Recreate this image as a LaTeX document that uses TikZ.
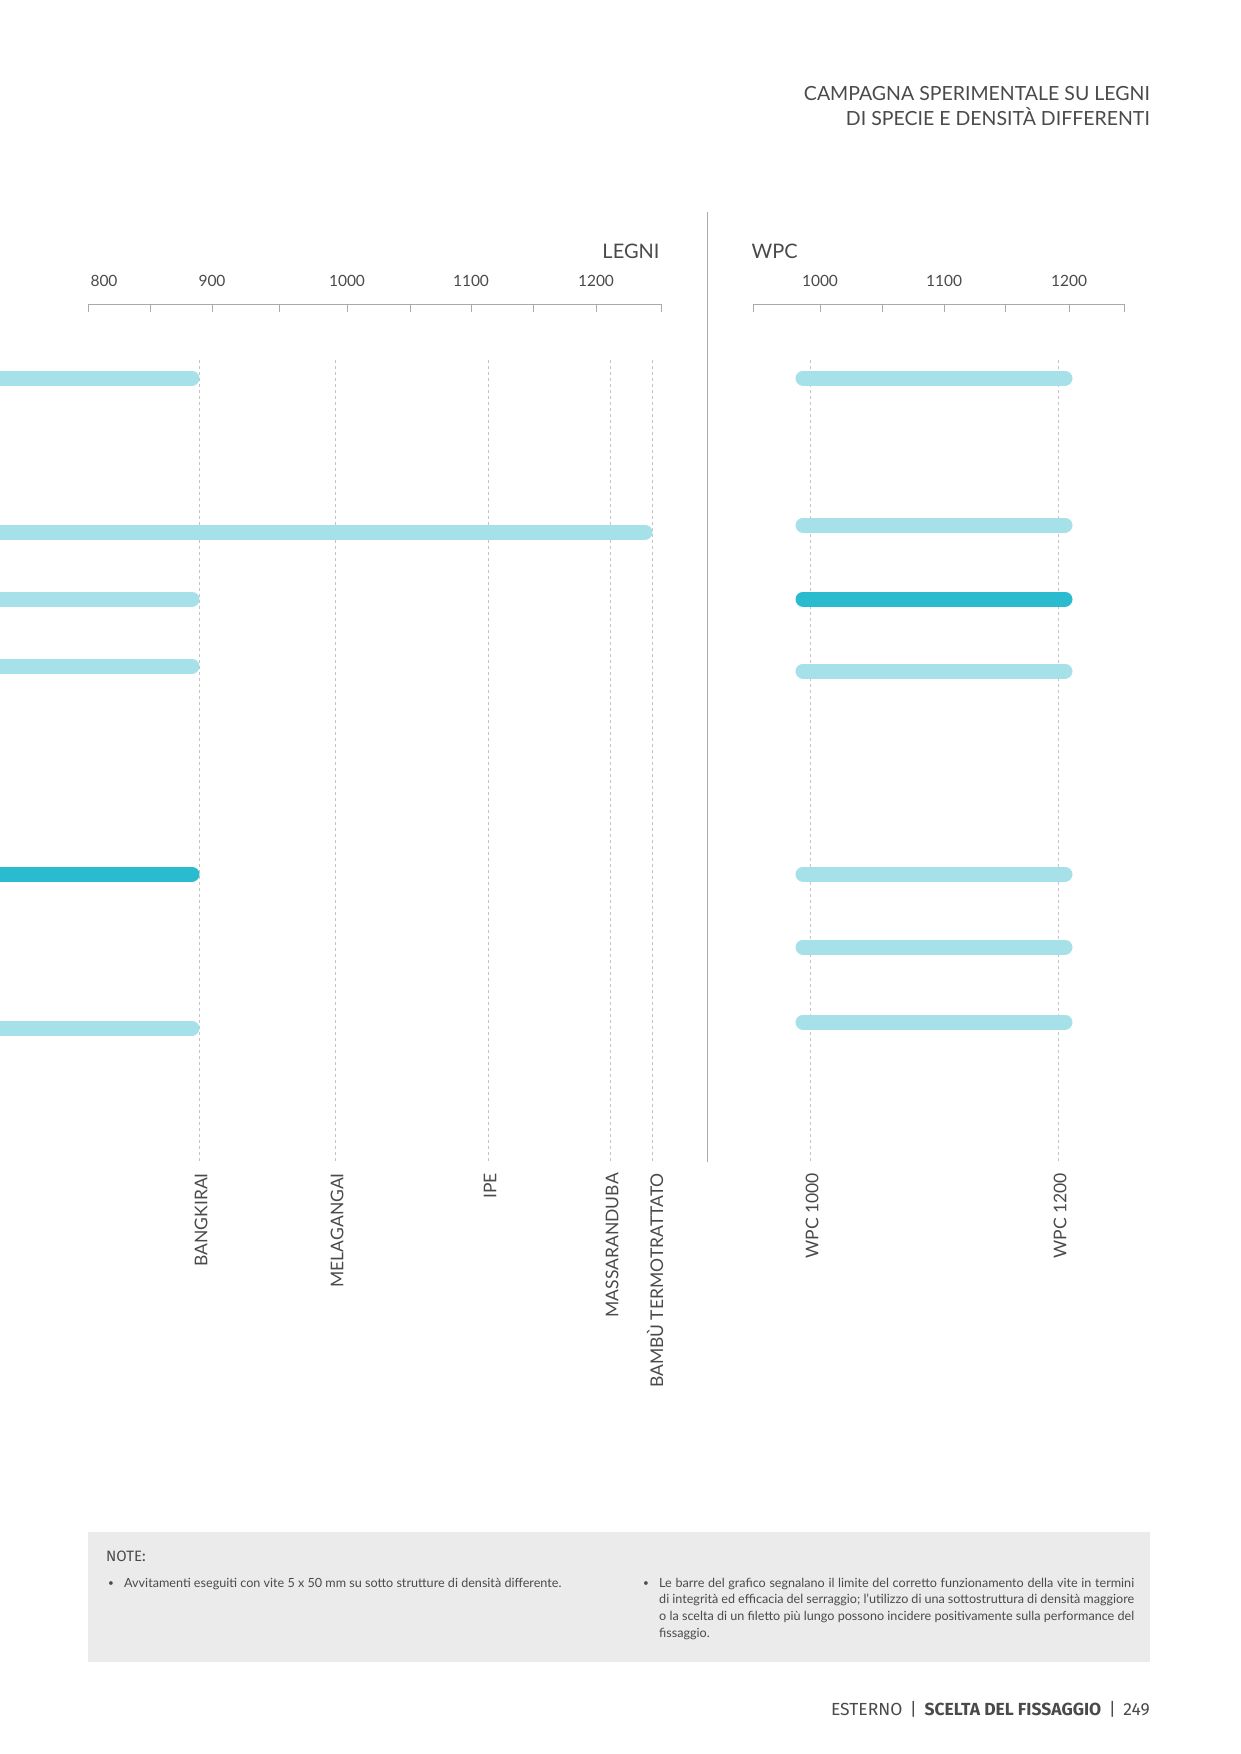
\documentclass[tikz,border=0pt]{standalone}
\usepackage{fontspec}
\setmainfont{Lato}
\newfontfamily\foot{Fira Sans}
\definecolor{lb}{HTML}{A6E1EA}
\definecolor{db}{HTML}{2BBBCF}
\definecolor{tx}{HTML}{4A4A4A}
\definecolor{ax}{HTML}{AAAAAA}
\definecolor{nb}{HTML}{EBEBEB}
\begin{document}
\begin{tikzpicture}[x=1pt,y=-1pt,
  bar/.style={line width=15pt,line cap=round,lb},
  dbar/.style={bar,db},
  guide/.style={draw=ax!70,dashed,line width=0.7pt},
  tk/.style={ax,line width=1pt},
  num/.style={text=tx,font=\fontsize{15.5}{17}\selectfont},
  head/.style={text=tx,font=\fontsize{20}{22}\selectfont},
  vl/.style={text=tx,font=\fontsize{17.5}{19}\selectfont,rotate=90,anchor=east,inner sep=0pt},
  nt/.style={text=tx,font=\fontsize{12.6}{16.5}\selectfont,align=justify,anchor=north west,inner sep=0pt}]
\useasboundingbox (0,0) rectangle (1240,1754);
\node[text=tx,font=\fontsize{19.5}{25}\selectfont,align=right,anchor=north east,inner sep=0pt] (title) at (1150,86) {CAMPAGNA SPERIMENTALE SU LEGNI\\DI SPECIE E DENSITÀ DIFFERENTI};
\draw[ax,line width=1pt] (707,212) -- (707,1162);
% left axis
\draw[tk] (88,304) -- (661,304);
\foreach \x in {88,150,212,279,347,410,471,533,596,661} \draw[tk] (\x,304) -- (\x,312);
\foreach \x/\l in {104/800,212/900,347/1000,471/1100,596/1200} \node[num] at (\x,281) {\l};
\node[head,anchor=east] (legni) at (663,251) {LEGNI};
% right axis
\draw[tk] (753,304) -- (1124,304);
\foreach \x in {753,820,882,944,1005,1069,1124} \draw[tk] (\x,304) -- (\x,312);
\foreach \x/\l in {820/1000,944/1100,1069/1200} \node[num] at (\x,281) {\l};
\node[head,anchor=west] (wpc) at (748,251) {WPC};
% dashed
\foreach \x in {199,335,488,610,652,810,1058} \draw[guide] (\x,360) -- (\x,1162);
% left bars
\foreach \y in {378,599,666,1028} \draw[bar] (-10,\y) -- (192,\y);
\draw[bar] (-10,532) -- (645,532);
\draw[dbar] (-10,874) -- (192,874);
% right bars
\foreach \y in {378,525,671,874,947,1022} \draw[bar] (803,\y) -- (1065,\y);
\draw[dbar] (803,599) -- (1065,599);
% labels
\node[vl] (b1) at (201,1173) {BANGKIRAI};
\node[vl] (b2) at (337,1173) {MELAGANGAI};
\node[vl] (b3) at (490,1173) {IPE};
\node[vl] (b4) at (612,1173) {MASSARANDUBA};
\node[vl] (b5) at (655,1173) {BAMBÙ TERMOTRATTATO};
\node[vl] (b6) at (812,1173) {WPC 1000};
\node[vl] (b7) at (1060,1173) {WPC 1200};
% notes
\fill[nb] (88,1532) rectangle (1150,1662);
\node[text=tx,anchor=west,inner sep=0pt,font=\foot\fontsize{15}{17}\selectfont] (note) at (106,1556) {NOTE:};
\node[nt,text width=472pt] (n1) at (124,1578) {Avvitamenti eseguiti con vite 5 x 50 mm su sotto strutture di densità dif\-ferente.};
\node[nt,text width=475pt] (n2) at (659,1578) {Le barre del grafico segnalano il limite del corretto funzionamento della vite in termini di integrità ed efficacia del serraggio; l’utilizzo di una sottostrut\-tura di densità maggiore o la scelta di un filetto più lungo possono incidere positivamente sulla performance del fissaggio.};
\node[text=tx,font=\fontsize{10}{10}\selectfont] at (111,1584) {•};
\node[text=tx,font=\fontsize{10}{10}\selectfont] at (646,1584) {•};
% footer
\node[text=tx,anchor=east,inner sep=0pt,font=\foot\fontsize{17.5}{19}\selectfont] (ft) at (1150,1709) {ESTERNO \,|\, \textbf{SCELTA DEL FISSAGGIO} \,|\, 249};
\end{tikzpicture}
\end{document}
